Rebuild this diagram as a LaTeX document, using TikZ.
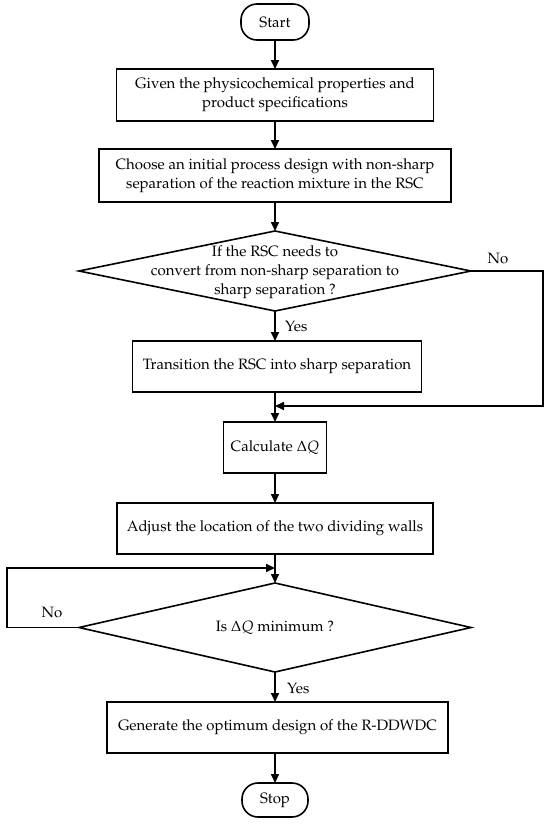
\documentclass[tikz,border=0pt]{standalone}
\usepackage[T1]{fontenc}
\usepackage{mathpazo}
\usetikzlibrary{arrows.meta,shapes.geometric}
\newcommand{\fsz}{\fontsize{15}{19}\selectfont}
\begin{document}
\begin{tikzpicture}[x=1pt,y=-1pt,
  every node/.style={font=\fsz},
  box/.style={draw,line width=1.6pt,align=center,inner sep=0pt,outer sep=0pt},
  term/.style={draw,line width=1.6pt,rounded corners=16pt,inner sep=0pt,outer sep=0pt},
  dia/.style={draw,diamond,line width=1.6pt,inner sep=0pt,outer sep=0pt},
  arr/.style={line width=1.6pt,-{Triangle[length=9pt,width=8pt]}},
  lab/.style={inner sep=0pt}]
\useasboundingbox (0,0) rectangle (550,825);
\node[term,minimum width=68pt,minimum height=36pt] (start) at (275,22) {Start};
\node[box,minimum width=317pt,minimum height=52pt] (b1) at (275,95) {Given the physicochemical properties and\\product specifications};
\node[box,minimum width=352pt,minimum height=53pt] (b2) at (275,175.5) {Choose an initial process design with non-sharp\\separation of the reaction mixture in the RSC};
\node[dia,minimum width=392pt,minimum height=80pt] (d1) at (275,271) {};
\node[align=center,lab] (t1) at (275,272) {If the RSC needs to\\convert from non-sharp separation to\\sharp separation ?};
\node[box,minimum width=289pt,minimum height=51pt] (b3) at (277,366.5) {Transition the RSC into sharp separation};
\node[box,minimum width=103pt,minimum height=51pt] (calc) at (275,447.5) {Calculate $\Delta Q$};
\node[box,minimum width=316pt,minimum height=51pt] (b4) at (275,528.5) {Adjust the location of the two dividing walls};
\node[dia,minimum width=392pt,minimum height=89pt] (d2) at (275,627.5) {};
\node[lab] (t2) at (275,628) {Is $\Delta Q$ minimum ?};
\node[box,minimum width=341pt,minimum height=51pt] (b5) at (277.5,727.5) {Generate the optimum design of the R-DDWDC};
\node[term,minimum width=66pt,minimum height=34pt] (stop) at (275,800) {Stop};
\coordinate (m1) at (275,406);
\coordinate (m2) at (275,568);
\coordinate (c1) at (543,271);
\coordinate (c2) at (7,627.5);
\node[lab] (no1) at (498,258) {No};
\node[lab,anchor=west] (yes1) at (285,326) {Yes};
\node[lab] (no2) at (52,612) {No};
\node[lab,anchor=west] (yes2) at (287,688) {Yes};
\draw[arr] (start.south) -- (b1.north);
\draw[arr] (b1.south) -- (b2.north);
\draw[arr] (b2.south) -- (d1.north);
\draw[arr] (d1.south) -- (d1.south |- b3.north);
\draw[arr] (d1.east) -- (c1) |- (m1);
\draw[arr] (m1 |- b3.south) -- (calc.north);
\draw[arr] (calc.south) -- (calc.south |- b4.north);
\draw[arr] (b4.south) -- (d2.north);
\draw[arr] (d2.west) -- (c2) |- (m2);
\draw[arr] (d2.south) -- (d2.south |- b5.north);
\draw[arr] (d2.south |- b5.south) -- (stop.north);
\end{tikzpicture}
\end{document}
